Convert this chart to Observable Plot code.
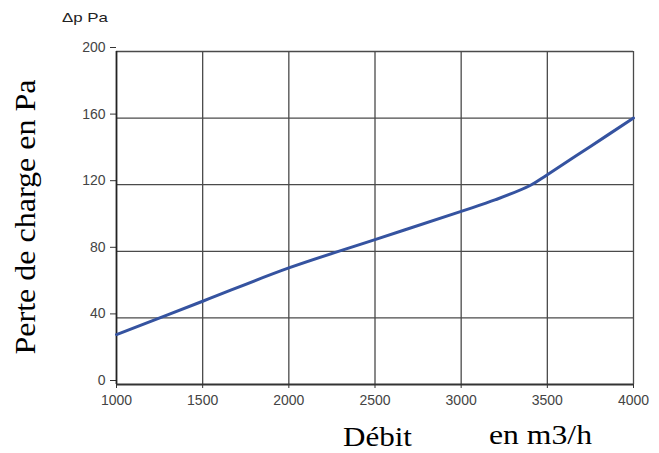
<!DOCTYPE html>
<html><head><meta charset="utf-8">
<script src="https://cdn.jsdelivr.net/npm/d3@7"></script>
<script src="https://cdn.jsdelivr.net/npm/@observablehq/plot@0.6"></script>
<style>
body{margin:0;background:#fff;}
#chart svg{display:block;}
</style>
</head><body><div id="chart"></div>
<script>
const debit = [1000, 1500, 2000, 2500, 3000, 3200, 3400, 3500, 3750, 4000];
const perte = [30, 50, 70, 87, 104, 111, 119.5, 126, 143, 160];
const xTicks = [1000, 1500, 2000, 2500, 3000, 3500, 4000];
const yTicks = [0, 40, 80, 120, 160, 200];
const yUnit = "Δp Pa";
const yTitle = "Perte de charge en Pa";
const xTitle1 = "Débit";
const xTitle2 = "en m3/h";

const data = debit.map((d, i) => ({x: d, y: perte[i]}));

const plot = Plot.plot({
  width: 659,
  height: 453,
  marginLeft: 116,
  marginRight: 26,
  marginTop: 51,
  marginBottom: 69,
  style: {fontFamily: "Liberation Sans, Arial, sans-serif", fontSize: "14px", background: "#fff"},
  x: {domain: [1000, 4000], ticks: xTicks, label: null, tickFormat: "d"},
  y: {domain: [0, 200], ticks: yTicks, label: null, tickFormat: "d"},
  marks: [
    Plot.gridX(xTicks.slice(1), {stroke: "#4a4a4a", strokeOpacity: 1, strokeWidth: 1.3}),
    Plot.gridY(yTicks.slice(1), {stroke: "#4a4a4a", strokeOpacity: 1, strokeWidth: 1.3}),
    Plot.axisX({ticks: xTicks, tickFormat: "d", tickSize: 4, tickPadding: 7, fill: "#444", stroke: "#333", fontSize: 14, label: null}),
    Plot.axisY({ticks: yTicks, tickFormat: "d", tickSize: 6, tickPadding: 5, dy: -4, fill: "#444", stroke: "#333", fontSize: 14, label: null}),
    Plot.ruleX([1000], {stroke: "#222", strokeWidth: 1.8}),
    Plot.ruleY([0], {stroke: "#333", strokeWidth: 2.2}),
    Plot.line(data, {x: "x", y: "y", stroke: "#3553a0", strokeWidth: 3, curve: "catmull-rom"})
  ]
});
document.getElementById("chart").appendChild(plot);

const svg = d3.select(plot);
svg.append("text").attr("x", 62).attr("y", 22).attr("text-anchor", "start")
  .attr("textLength", 46).attr("lengthAdjust", "spacingAndGlyphs")
  .attr("font-family", "Liberation Sans, Arial, sans-serif").attr("font-size", 13.5)
  .attr("fill", "#222").text(yUnit);
svg.append("text").attr("transform", "translate(35,217) rotate(-90)")
  .attr("text-anchor", "middle")
  .attr("textLength", 275).attr("lengthAdjust", "spacingAndGlyphs")
  .attr("font-family", "Liberation Serif, Times New Roman, serif").attr("font-size", 30)
  .attr("fill", "#000").text(yTitle);
svg.append("text").attr("x", 343).attr("y", 446).attr("text-anchor", "start")
  .attr("textLength", 69).attr("lengthAdjust", "spacingAndGlyphs")
  .attr("font-family", "Liberation Serif, Times New Roman, serif").attr("font-size", 27)
  .attr("fill", "#000").text(xTitle1);
svg.append("text").attr("x", 489).attr("y", 444).attr("text-anchor", "start")
  .attr("textLength", 103).attr("lengthAdjust", "spacingAndGlyphs")
  .attr("font-family", "Liberation Serif, Times New Roman, serif").attr("font-size", 27)
  .attr("fill", "#000").text(xTitle2);
</script>
</body></html>
